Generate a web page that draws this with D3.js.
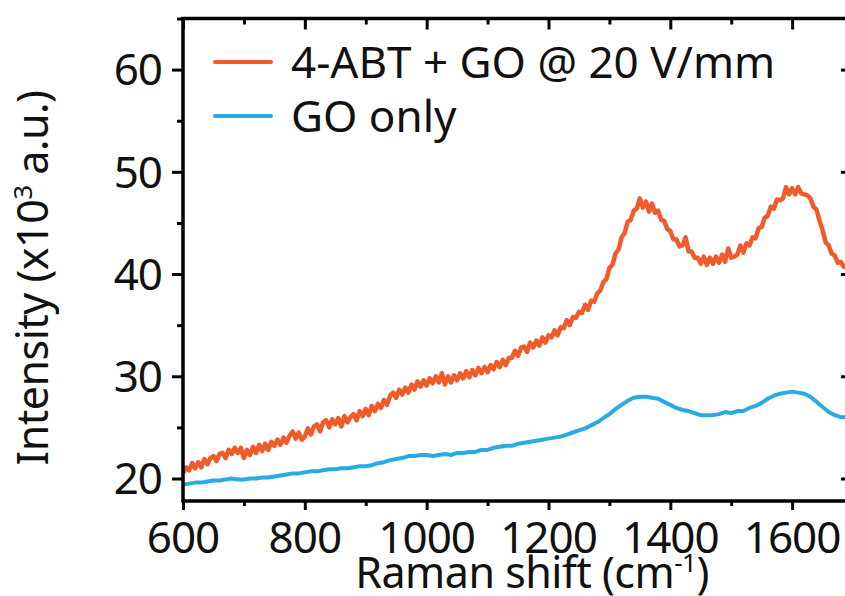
<!DOCTYPE html>
<html>
<head>
<meta charset="utf-8">
<script src="https://cdn.jsdelivr.net/npm/d3@7"></script>
<style>
  body { margin: 0; background: #fff; }
  text { font-family: "Noto Sans", "Open Sans", sans-serif; fill: #111; }
</style>
</head>
<body>
<div id="chart"></div>
<script>
// Raman spectra (x: cm-1, y: x10^3 a.u.)
const abtStart = 600, abtStep = 5;
const abtValues = [
  20.5, 21.1, 20.8, 21.5, 21.0, 21.6, 21.1, 21.9, 21.4, 22.0,
  22.2, 21.7, 22.4, 22.5, 22.0, 22.8, 22.4, 23.0, 22.5, 23.0,
  22.0, 22.8, 22.3, 23.1, 22.5, 23.3, 22.7, 23.4, 22.8, 23.6,
  23.2, 23.8, 23.3, 24.0, 23.5, 24.2, 24.6, 23.9, 24.5, 23.8,
  24.1, 24.9, 24.3, 25.1, 25.3, 24.6, 25.5, 25.7, 25.0, 25.8,
  25.3, 25.9, 25.1, 26.1, 25.5, 26.0, 26.3, 25.7, 26.6, 26.1,
  26.8, 26.2, 27.1, 26.6, 27.3, 26.9, 27.7, 27.2, 28.1, 28.4,
  27.9, 28.7, 28.2, 28.9, 28.4, 29.2, 28.7, 29.5, 29.0, 29.6,
  29.1, 29.8, 29.3, 30.0, 29.4, 30.3, 29.2, 30.0, 29.4, 30.1,
  29.6, 30.3, 29.8, 30.5, 29.9, 30.6, 30.1, 30.8, 30.3, 30.9,
  30.4, 31.1, 30.7, 31.4, 30.9, 31.6, 31.1, 31.8, 31.8, 32.5,
  32.0, 32.8, 32.9, 32.4, 33.3, 32.8, 33.5, 33.0, 33.8, 33.3,
  34.0, 33.8, 34.5, 34.0, 34.8, 34.7, 35.5, 35.0, 35.8, 35.7,
  36.3, 36.2, 37.0, 36.5, 37.4, 37.3, 38.1, 38.4, 39.2, 39.5,
  40.6, 40.9, 42.0, 42.4, 43.6, 44.0, 45.1, 45.3, 46.2, 46.4,
  47.4, 46.5, 47.1, 46.1, 46.9, 46.0, 46.2, 45.3, 45.2, 44.4,
  44.2, 43.4, 43.4, 42.7, 42.8, 43.6, 42.2, 42.2, 41.6, 41.6,
  41.0, 41.7, 40.9, 41.6, 41.0, 41.7, 41.1, 41.9, 41.2, 42.5,
  41.6, 41.7, 41.9, 42.8, 42.1, 43.0, 42.8, 43.6, 43.5, 44.5,
  44.6, 45.5, 45.7, 46.6, 46.4, 47.3, 47.2, 47.4, 48.5, 47.8,
  48.4, 47.8, 48.5, 47.9, 47.8, 47.7, 47.4, 46.6, 46.3, 45.2,
  44.3, 43.1, 42.8, 42.0, 41.8, 41.1, 41.2, 40.7, 40.8, 40.5
];
const goStart = 600, goStep = 10;
const goValues = [
  19.4, 19.5, 19.6, 19.6, 19.7, 19.8, 19.8, 19.9, 20.0, 19.9,
  19.9, 20.0, 20.0, 20.1, 20.1, 20.2, 20.3, 20.4, 20.5, 20.5,
  20.6, 20.7, 20.7, 20.8, 20.9, 20.9, 21.0, 21.0, 21.1, 21.2,
  21.2, 21.3, 21.5, 21.6, 21.8, 21.9, 22.0, 22.2, 22.2, 22.3,
  22.3, 22.2, 22.3, 22.4, 22.3, 22.5, 22.5, 22.6, 22.6, 22.8,
  22.8, 23.0, 23.1, 23.2, 23.2, 23.4, 23.5, 23.6, 23.7, 23.8,
  23.9, 24.0, 24.1, 24.3, 24.5, 24.7, 24.9, 25.2, 25.5, 25.9,
  26.3, 26.8, 27.2, 27.6, 27.9, 28.0, 28.0, 27.9, 27.8, 27.5,
  27.2, 26.9, 26.7, 26.6, 26.4, 26.2, 26.2, 26.2, 26.3, 26.5,
  26.4, 26.6, 26.6, 26.9, 27.1, 27.4, 27.8, 28.1, 28.3, 28.4,
  28.5, 28.4, 28.3, 28.0, 27.5, 27.0, 26.5, 26.2, 26.0, 26.0
];
const seriesNames = ["4-ABT + GO @ 20 V/mm", "GO only"];
const seriesColors = ["#f15a2b", "#29abe2"];
const xTicks = [600, 800, 1000, 1200, 1400, 1600];
const yTicks = [20, 30, 40, 50, 60];

const width = 845, height = 596;
const margin = { top: 18.5, right: -5, bottom: 95, left: 183 };
const plotW = width - margin.left - margin.right;
const plotH = height - margin.top - margin.bottom;

const svg = d3.select("#chart")
  .append("svg")
  .attr("width", width)
  .attr("height", height);

const g = svg.append("g")
  .attr("transform", `translate(${margin.left},${margin.top})`);

const x = d3.scaleLinear().domain([600, 1695]).range([0, plotW]);
const y = d3.scaleLinear().domain([17.8, 65]).range([plotH, 0]);

const series = [
  abtValues.map((v, i) => [abtStart + i * abtStep, v]),
  goValues.map((v, i) => [goStart + i * goStep, v])
];

// clip to the plot box
g.append("clipPath").attr("id", "clip")
  .append("rect").attr("width", plotW).attr("height", plotH);

const line = d3.line().x(d => x(d[0])).y(d => y(d[1]));

g.selectAll(".spec")
  .data(series)
  .enter()
  .append("path")
  .attr("class", "spec")
  .attr("clip-path", "url(#clip)")
  .attr("d", line)
  .attr("fill", "none")
  .attr("stroke", (d, i) => seriesColors[i])
  .attr("stroke-width", (d, i) => i === 0 ? 4.5 : 4)
  .attr("stroke-linejoin", "round");

// axes: major + minor ticks, mirrored top/right pointing inward
const xMinor = d3.range(700, 1700, 200);
const yMinor = d3.range(25, 66, 10);
const tickStroke = 3;

function ticks(sel) {
  sel.selectAll("path").remove();
  sel.selectAll("line").attr("stroke", "#000").attr("stroke-width", tickStroke);
  sel.selectAll("text").remove();
}

g.append("g").attr("transform", `translate(0,${plotH})`)
  .call(d3.axisBottom(x).tickValues(xTicks).tickSize(9)).call(ticks);
g.append("g").attr("transform", `translate(0,${plotH})`)
  .call(d3.axisBottom(x).tickValues(xMinor).tickSize(5)).call(ticks);
g.append("g")
  .call(d3.axisTop(x).tickValues(xTicks).tickSize(-11)).call(ticks);
g.append("g")
  .call(d3.axisTop(x).tickValues(xMinor).tickSize(-6)).call(ticks);
g.append("g")
  .call(d3.axisLeft(y).tickValues(yTicks).tickSize(11)).call(ticks);
g.append("g")
  .call(d3.axisLeft(y).tickValues(yMinor).tickSize(6)).call(ticks);
g.append("g").attr("transform", `translate(${plotW},0)`)
  .call(d3.axisRight(y).tickValues(yTicks).tickSize(-9)).call(ticks);

// frame
g.append("rect")
  .attr("width", plotW)
  .attr("height", plotH)
  .attr("fill", "none")
  .attr("stroke", "#000")
  .attr("stroke-width", 3.5);

// tick labels
g.selectAll(".xlab")
  .data(xTicks)
  .enter()
  .append("text")
  .attr("x", d => x(d))
  .attr("y", plotH + 52)
  .attr("text-anchor", "middle")
  .attr("font-size", "44px")
  .attr("letter-spacing", "-1px")
  .text(d => d);

g.selectAll(".ylab")
  .data(yTicks)
  .enter()
  .append("text")
  .attr("x", -21)
  .attr("y", d => y(d))
  .attr("dy", "0.36em")
  .attr("text-anchor", "end")
  .attr("font-size", "44px")
  .attr("letter-spacing", "-1px")
  .text(d => d);

// axis titles
const xTitle = svg.append("text")
  .attr("x", 532)
  .attr("y", 588)
  .attr("text-anchor", "middle")
  .attr("font-size", "43px")
  .attr("letter-spacing", "-0.5px");
xTitle.append("tspan").text("Raman shift (cm");
xTitle.append("tspan").attr("dy", -16).attr("font-size", "26px").text("-1");
xTitle.append("tspan").attr("dy", 16).text(")");

const yTitle = svg.append("text")
  .attr("transform", "translate(48,278) rotate(-90)")
  .attr("text-anchor", "middle")
  .attr("font-size", "43px")
  .attr("letter-spacing", "-0.5px");
yTitle.append("tspan").text("Intensity (x10");
yTitle.append("tspan").attr("dy", -16).attr("font-size", "26px").text("3");
yTitle.append("tspan").attr("dy", 16).text(" a.u.)");

// legend
const legend = svg.append("g");
seriesNames.forEach((name, i) => {
  const ly = 62 + i * 54;
  legend.append("line")
    .attr("x1", 215).attr("x2", 271)
    .attr("y1", ly).attr("y2", ly)
    .attr("stroke", seriesColors[i])
    .attr("stroke-width", 4)
    .attr("stroke-linecap", "round");
  legend.append("text")
    .attr("x", 291)
    .attr("y", ly + 16)
    .attr("font-size", "44px")
    .text(name);
});
</script>
</body>
</html>
